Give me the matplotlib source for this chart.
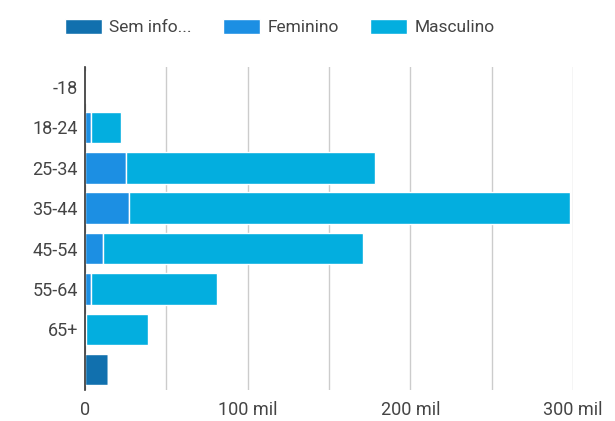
import matplotlib
matplotlib.use("Agg")
import matplotlib.pyplot as plt
import numpy as np

plt.rcParams['font.family'] = ['Roboto', 'DejaVu Sans']

# --------- data (milhares) ---------
faixas = ['-18', '18-24', '25-34', '35-44', '45-54', '55-64', '65+', '']
sem_info = [0, 0, 0, 0, 0, 0, 0, 14]
feminino = [0.3, 4, 25, 27, 11, 4, 1, 0]
masculino = [0.5, 18, 153, 271, 160, 77, 38, 0]
ticks = [0, 100, 200, 300]
tick_labels = ['0', '100 mil', '200 mil', '300 mil']

c_sem = '#1170AE'
c_fem = '#1C8FE3'
c_masc = '#03AEDF'

fig = plt.figure(figsize=(6.15, 4.21), dpi=100)
ax = fig.add_axes([0.138, 0.074, 0.794, 0.767])

y = np.arange(len(faixas))
sem = np.array(sem_info)
fem = np.array(feminino)
masc = np.array(masculino)

ax.barh(y, sem, height=0.78, color=c_sem, edgecolor='white', linewidth=1, label='Sem info...')
ax.barh(y, fem, left=sem, height=0.78, color=c_fem, edgecolor='white', linewidth=1, label='Feminino')
ax.barh(y, masc, left=sem + fem, height=0.78, color=c_masc, edgecolor='white', linewidth=1, label='Masculino')

ax.set_xlim(0, 300)
ax.set_ylim(len(faixas) - 0.5, -0.5)
ax.set_yticks(y)
ax.set_yticklabels(faixas)
ax.set_xticks(ticks)
ax.set_xticklabels(tick_labels)
ax.set_xticks([50, 150, 250], minor=True)

ax.grid(axis='x', which='both', color='#cccccc', linewidth=1)
ax.set_axisbelow(True)
for s in ['top', 'right', 'bottom']:
    ax.spines[s].set_visible(False)
ax.spines['left'].set_color('#333333')
ax.spines['left'].set_linewidth(1.2)
ax.spines['left'].set_zorder(5)

ax.tick_params(axis='both', which='both', length=0, labelsize=13, labelcolor='#444444')
ax.tick_params(axis='x', pad=8)
ax.tick_params(axis='y', pad=5)

fig.legend(loc='center', bbox_to_anchor=(0.455, 0.935), ncol=3, frameon=False,
           fontsize=12.5, handlelength=2.1, handleheight=0.9, handletextpad=0.45,
           columnspacing=1.8, labelcolor='#444444')

plt.savefig('out.png', dpi=100)
